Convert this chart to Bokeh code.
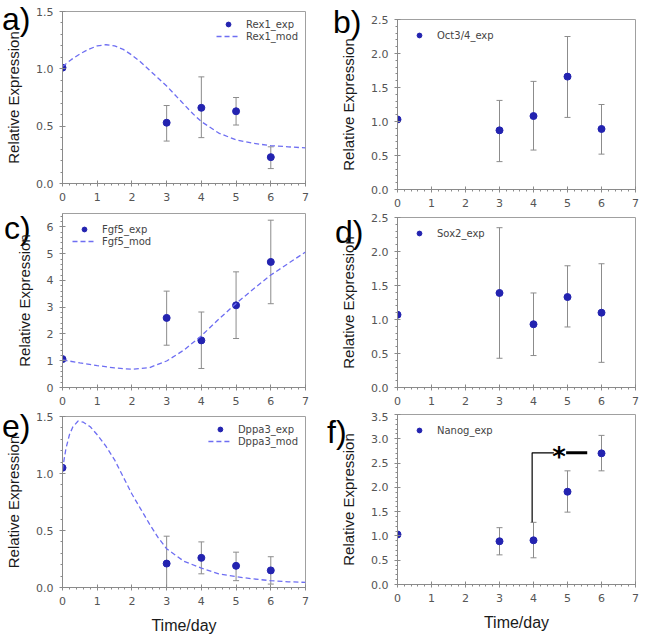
import numpy as np
from bokeh.plotting import figure
from bokeh.layouts import column, row
from bokeh.models import (Range1d, FixedTicker, NumeralTickFormatter, Whisker, TeeHead,
                          ColumnDataSource, Label, Div)
from bokeh.embed import file_html
from bokeh.resources import INLINE

# ---------------- data ----------------
days = [0, 3, 4, 5, 6]
err_days = [3, 4, 5, 6]

rex1_mean = [1.01, 0.53, 0.66, 0.63, 0.23]
rex1_lo = [0.37, 0.40, 0.51, 0.13]
rex1_hi = [0.68, 0.93, 0.75, 0.32]
rex1_t = [0, 0.25, 0.5, 0.75, 1, 1.25, 1.5, 1.75, 2, 2.25, 2.5, 2.75, 3, 3.25, 3.5, 3.75, 4, 4.5, 5, 5.5, 6, 6.5, 7]
rex1_mod = [1.02, 1.08, 1.13, 1.17, 1.20, 1.21, 1.20, 1.17, 1.12, 1.06, 0.99, 0.92, 0.85, 0.77, 0.69, 0.61, 0.54, 0.44, 0.38, 0.35, 0.33, 0.32, 0.31]

oct4_mean = [1.03, 0.87, 1.08, 1.66, 0.89]
oct4_lo = [0.41, 0.58, 1.06, 0.52]
oct4_hi = [1.31, 1.59, 2.25, 1.25]

fgf5_mean = [1.06, 2.60, 1.76, 3.07, 4.69]
fgf5_lo = [1.58, 0.71, 1.83, 3.13]
fgf5_hi = [3.60, 2.82, 4.32, 6.25]
fgf5_t = [0, 0.5, 1, 1.5, 2, 2.5, 3, 3.5, 4, 4.5, 5, 5.5, 6, 6.5, 7]
fgf5_mod = [1.03, 0.92, 0.82, 0.73, 0.68, 0.74, 0.99, 1.40, 1.93, 2.55, 3.14, 3.68, 4.20, 4.63, 5.06]

sox2_mean = [1.07, 1.39, 0.93, 1.33, 1.10]
sox2_lo = [0.43, 0.47, 0.89, 0.37]
sox2_hi = [2.35, 1.39, 1.79, 1.82]

dppa3_mean = [1.05, 0.21, 0.26, 0.19, 0.15]
dppa3_lo = [0.0, 0.12, 0.06, 0.03]
dppa3_hi = [0.45, 0.40, 0.31, 0.27]
dppa3_t = [0, 0.05, 0.1, 0.2, 0.3, 0.45, 0.6, 0.8, 1, 1.25, 1.5, 1.75, 2, 2.25, 2.5, 2.75, 3, 3.5, 4, 4.5, 5, 5.5, 6, 6.5, 7]
dppa3_mod = [1.03, 1.13, 1.22, 1.34, 1.41, 1.46, 1.45, 1.41, 1.34, 1.24, 1.12, 0.97, 0.82, 0.69, 0.56, 0.44, 0.34, 0.23, 0.17, 0.12, 0.095, 0.075, 0.06, 0.05, 0.045]

nanog_mean = [1.03, 0.89, 0.91, 1.91, 2.70]
nanog_lo = [0.61, 0.55, 1.49, 2.34]
nanog_hi = [1.17, 1.28, 2.34, 3.07]

# significance bracket (panel f)
sig_bracket_x = [3.96, 3.96, 4.60]
sig_bracket_y = [1.28, 2.71, 2.71]
sig_bar_x = [4.96, 5.58]
sig_bar_y = [2.71, 2.71]
sig_star_x = 4.75
sig_star_y = 2.63

x_ticks = [0, 1, 2, 3, 4, 5, 6, 7]

DOT = "#2323b0"
MOD = "#6e6ef2"
ERR = "#8c8c8c"
AXIS = "#8a8a8a"
TICKLAB = "#555555"


def make_panel(w, h, bl, br, bt, bb, ymax, ymajor, yfmt, xlabel=False):
    p = figure(width=w, height=h, output_backend="svg", toolbar_location=None,
               x_range=Range1d(0, 7), y_range=Range1d(0, ymax),
               min_border_left=bl, min_border_right=br, min_border_top=bt, min_border_bottom=bb)
    p.grid.visible = False
    p.outline_line_color = "#a0a0a0"
    p.outline_line_width = 1
    p.background_fill_color = "white"
    p.border_fill_alpha = 0
    p.xaxis.ticker = FixedTicker(ticks=x_ticks, minor_ticks=list(np.round(np.arange(0, 7.01, 0.2), 2)))
    yt = list(np.round(np.arange(0, ymax + 1e-9, ymajor), 3))
    ym = list(np.round(np.arange(0, ymax + 1e-9, ymajor / 5), 3))
    p.yaxis.ticker = FixedTicker(ticks=yt, minor_ticks=ym)
    p.yaxis.formatter = NumeralTickFormatter(format=yfmt)
    for ax in (p.xaxis[0], p.yaxis[0]):
        ax.axis_line_color = AXIS
        ax.major_tick_line_color = AXIS
        ax.minor_tick_line_color = AXIS
        ax.major_tick_in = 3
        ax.major_tick_out = 3
        ax.minor_tick_in = 0
        ax.minor_tick_out = 2
        ax.major_label_text_font = "DejaVu Sans"
        ax.major_label_text_font_size = "11px"
        ax.major_label_text_color = TICKLAB
        ax.major_label_standoff = 6
        ax.axis_label_text_font = "Liberation Sans"
        ax.axis_label_text_font_style = "normal"
        ax.axis_label_text_color = "#1a1a1a"
    p.yaxis.axis_label = "Relative Expression"
    p.yaxis.axis_label_text_font_size = "15px"
    p.yaxis.axis_label_standoff = 11
    if xlabel:
        p.xaxis.axis_label = "Time/day"
        p.xaxis.axis_label_text_font_size = "16px"
        p.xaxis.axis_label_standoff = 9
    return p


def add_exp(p, mean, lo, hi, name):
    src = ColumnDataSource(dict(x=err_days, lo=lo, hi=hi))
    wk = Whisker(base="x", lower="lo", upper="hi", source=src, dimension="height",
                 line_color=ERR, line_width=1, level="underlay",
                 upper_head=TeeHead(size=6, line_color=ERR, line_width=1),
                 lower_head=TeeHead(size=6, line_color=ERR, line_width=1))
    p.add_layout(wk)
    p.scatter(days, mean, size=7, color=DOT, legend_label=name)


def add_mod(p, t, y, name):
    p.line(t, y, line_color=MOD, line_width=1.3, line_dash="5 3", legend_label=name)


def style_legend(p, loc, margin):
    lg = p.legend[0]
    lg.location = loc
    lg.background_fill_alpha = 0
    lg.border_line_alpha = 0
    lg.label_text_font = "DejaVu Sans"
    lg.label_text_font_size = "10px"
    lg.label_text_color = "#444444"
    lg.glyph_width = 24
    lg.glyph_height = 12
    lg.label_height = 12
    lg.label_standoff = 6
    lg.spacing = 0
    lg.padding = 4
    lg.margin = margin


def with_tag(p, txt, ml, mt):
    w = 40
    d = Div(text=txt, width=w, height=40, align="start",
            margin=(mt, -(w + ml), 0, ml),
            styles={"font-family": "Liberation Sans", "font-size": "32px",
                    "line-height": "32px", "color": "black"})
    return row(d, p)


# a) Rex1
pa = make_panel(322, 208, 62, 17, 11, 25, 1.5, 0.5, "0.0")
add_exp(pa, rex1_mean, rex1_lo, rex1_hi, "Rex1_exp")
add_mod(pa, rex1_t, rex1_mod, "Rex1_mod")
style_legend(pa, "top_right", 3)

# b) Oct3/4
pb = make_panel(324, 210, 75, 11, 19, 21, 2.5, 0.5, "0.0")
add_exp(pb, oct4_mean, oct4_lo, oct4_hi, "Oct3/4_exp")
style_legend(pb, "top_left", 6)

# c) Fgf5
pc = make_panel(322, 204, 62, 17, 5, 25, 6.5, 1, "0")
add_exp(pc, fgf5_mean, fgf5_lo, fgf5_hi, "Fgf5_exp")
add_mod(pc, fgf5_t, fgf5_mod, "Fgf5_mod")
style_legend(pc, "top_left", 6)

# d) Sox2
pd_ = make_panel(324, 202, 75, 11, 7, 25, 2.5, 0.5, "0.0")
add_exp(pd_, sox2_mean, sox2_lo, sox2_hi, "Sox2_exp")
style_legend(pd_, "top_left", 6)

# e) Dppa3
pe = make_panel(322, 224, 62, 17, 4, 49, 1.5, 0.5, "0.0", xlabel=True)
add_exp(pe, dppa3_mean, dppa3_lo, dppa3_hi, "Dppa3_exp")
add_mod(pe, dppa3_t, dppa3_mod, "Dppa3_mod")
style_legend(pe, "top_right", 3)

# f) Nanog
pf = make_panel(324, 224, 75, 11, 2, 52, 3.5, 0.5, "0.0", xlabel=True)
add_exp(pf, nanog_mean, nanog_lo, nanog_hi, "Nanog_exp")
style_legend(pf, "top_left", 6)
pf.line(sig_bracket_x, sig_bracket_y, line_color="black", line_width=1.2)
pf.line(sig_bar_x, sig_bar_y, line_color="black", line_width=3)
pf.add_layout(Label(x=sig_star_x, y=sig_star_y, text="*", text_font="DejaVu Sans",
                    text_font_style="bold", text_font_size="26px", text_color="black",
                    text_align="center", text_baseline="alphabetic"))

left_col = column(with_tag(pa, "a)", 2, 3), with_tag(pc, "c)", 4, 4), with_tag(pe, "e)", 2, -2))
right_col = column(with_tag(pb, "b)", 11, 6), with_tag(pd_, "d)", 13, 6), with_tag(pf, "f)", 5, 4))
layout = row(left_col, right_col)

open("out.html", "w").write(file_html(layout, INLINE))
